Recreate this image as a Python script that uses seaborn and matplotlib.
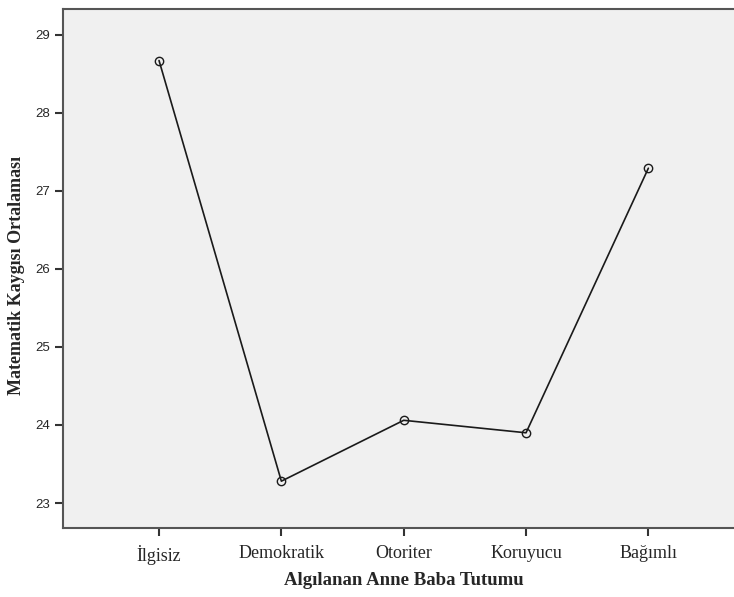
import matplotlib
matplotlib.use("Agg")
import matplotlib.pyplot as plt
import seaborn as sns
import pandas as pd

categories = ["İlgisiz", "Demokratik", "Otoriter", "Koruyucu", "Bağımlı"]
means = [28.67, 23.28, 24.06, 23.90, 27.29]
y_ticks = [23, 24, 25, 26, 27, 28, 29]

df = pd.DataFrame({"Tutum": categories, "Ortalama": means})
df["pos"] = range(len(categories))

sns.set_style("white")
fig = plt.figure(figsize=(7.34, 5.97), dpi=100)
ax = fig.add_axes([63 / 734, 69 / 597, 1 - 63 / 734, 519 / 597])
ax.set_facecolor("#f0f0f0")

sns.lineplot(data=df, x="pos", y="Ortalama", ax=ax, color="#1a1a1a", linewidth=1.2,
             marker="o", markersize=6, markerfacecolor="none",
             markeredgecolor="#1a1a1a", markeredgewidth=1.0)

ax.set_xlim(-0.785, 4.70)
ax.set_ylim(22.68, 29.33)
ax.set_xticks(df["pos"])
ax.set_xticklabels(categories, family="Liberation Serif", fontsize=13)
ax.set_yticks(y_ticks)
ax.set_yticklabels([str(t) for t in y_ticks], family="Liberation Sans", fontsize=9.5)

for side in ["left", "bottom", "top"]:
    ax.spines[side].set_color("#555555")
    ax.spines[side].set_linewidth(1.5)
ax.spines["right"].set_visible(False)
ax.tick_params(axis="both", which="major", length=6, width=1.5, color="#333333",
               direction="out", left=True, bottom=True, pad=3)
ax.tick_params(axis="x", pad=6)

ax.set_xlabel("Algılanan Anne Baba Tutumu", family="Liberation Serif",
              fontweight="bold", fontsize=13.5, labelpad=5)
ax.set_ylabel("Matematik Kaygısı Ortalaması", family="Liberation Serif",
              fontweight="bold", fontsize=13, labelpad=8)
# the plot frame in the original runs past the right edge of the image
ax.xaxis.label.set_x(0.5075)
ax.yaxis.label.set_y(0.486)

fig.savefig("out.png", dpi=100)
